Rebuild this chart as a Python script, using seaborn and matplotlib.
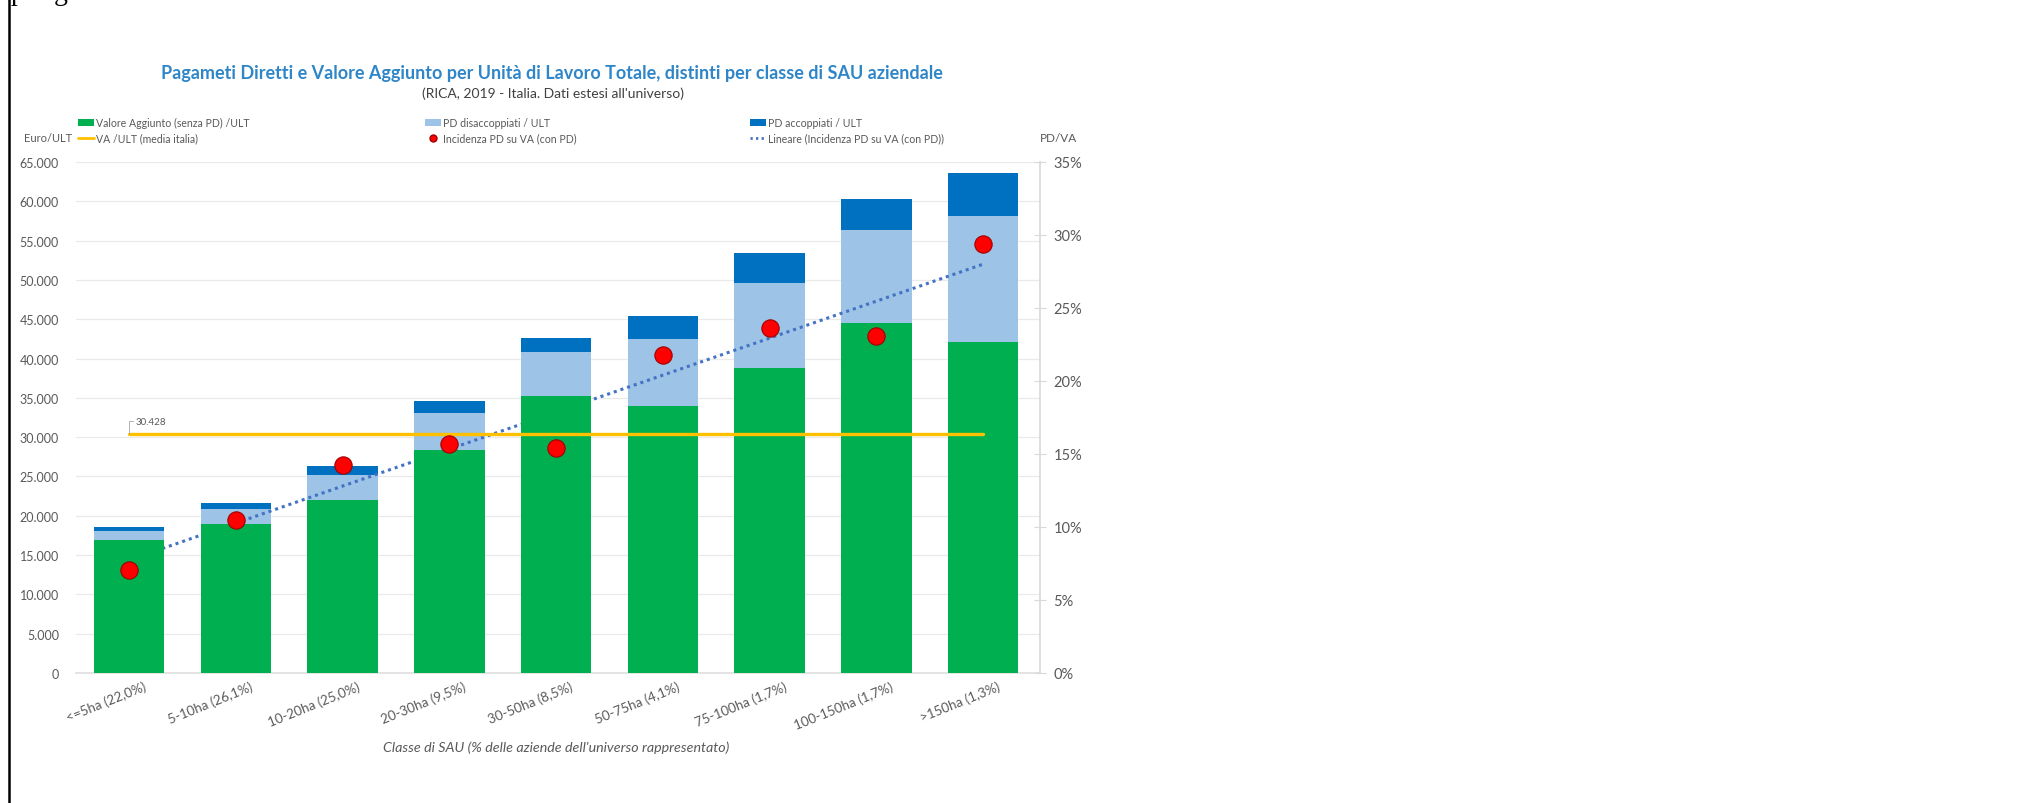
import numpy as np
import pandas as pd
import matplotlib
matplotlib.use("Agg")
import matplotlib.pyplot as plt
import matplotlib.transforms as mtransforms
import seaborn as sns
from matplotlib.lines import Line2D
from matplotlib.patches import Patch
from matplotlib.ticker import FuncFormatter

# ---------------- data ----------------
categories = ["<=5ha (22,0%)", "5-10ha (26,1%)", "10-20ha (25,0%)", "20-30ha (9,5%)",
              "30-50ha (8,5%)", "50-75ha (4,1%)", "75-100ha (1,7%)", "100-150ha (1,7%)",
              ">150ha (1,3%)"]
va_senza_pd = [16900, 18900, 22000, 28400, 35200, 33900, 38800, 44500, 42100]
pd_disaccoppiati = [1200, 2000, 3200, 4650, 5600, 8600, 10800, 11850, 16000]
pd_accoppiati = [450, 700, 1150, 1500, 1820, 2950, 3850, 3950, 5500]
incidenza_pd = [0.0705, 0.105, 0.1425, 0.157, 0.154, 0.218, 0.236, 0.231, 0.294]
va_media_italia = 30428

left_ticks = list(range(0, 65001, 5000))
right_ticks = [0.0, 0.05, 0.10, 0.15, 0.20, 0.25, 0.30, 0.35]

title = "Pagameti Diretti e Valore Aggiunto per Unità di Lavoro Totale, distinti per classe di SAU aziendale"
subtitle = "(RICA, 2019 - Italia. Dati estesi all'universo)"
xlabel = "Classe di SAU (% delle aziende dell'universo rappresentato)"
legend_labels = ["Valore Aggiunto (senza PD) /ULT", "PD disaccoppiati / ULT", "PD accoppiati / ULT",
                 "VA /ULT (media italia)", "Incidenza PD su VA (con PD)",
                 "Lineare (Incidenza PD su VA (con PD))"]

# ---------------- style ----------------
sns.set_theme(style="white")
plt.rcParams["font.family"] = ["Lato", "DejaVu Sans"]

GREEN = "#00B050"
LIGHT = "#9DC3E6"
DARK = "#0070C0"
YELLOW = "#FFC000"
RED = "#FF0000"
TREND = "#4472C4"
TXT = "#595959"

df = pd.DataFrame({
    "classe": categories,
    "va": va_senza_pd,
    "lvl2": np.array(va_senza_pd) + np.array(pd_disaccoppiati),
    "lvl3": np.array(va_senza_pd) + np.array(pd_disaccoppiati) + np.array(pd_accoppiati),
})
xpos = np.arange(len(categories))

fig = plt.figure(figsize=(20.18, 8.04), dpi=100)
fig.patch.set_facecolor("white")
ax = fig.add_axes([0.0375, 0.1617, 0.4777, 0.6356])
ax2 = ax.twinx()
ax2.set_ylim(0, 0.35)

bw = 0.66
sns.barplot(data=df, x="classe", y="lvl3", order=categories, color=DARK, width=bw,
            saturation=1, errorbar=None, ax=ax, zorder=2, linewidth=0)
sns.barplot(data=df, x="classe", y="lvl2", order=categories, color=LIGHT, width=bw,
            saturation=1, errorbar=None, ax=ax, zorder=2, linewidth=0)

# linear trend of incidence (drawn in ax with ax2 scale, behind green bars)
coef = np.polyfit(xpos, incidenza_pd, 1)
trend = np.polyval(coef, xpos)
ax.plot(xpos, trend, transform=ax2.transData, color=TREND, lw=2.2,
        linestyle=(0, (1.0, 1.3)), zorder=2.5)

sns.barplot(data=df, x="classe", y="va", order=categories, color=GREEN, width=bw,
            saturation=1, errorbar=None, ax=ax, zorder=3, linewidth=0)

ax.plot([xpos[0], xpos[-1]], [va_media_italia, va_media_italia], color=YELLOW, lw=2.4, zorder=4)
ax.annotate(f"{va_media_italia:,}".replace(",", "."), xy=(xpos[0], va_media_italia),
            xytext=(5, 9), textcoords="offset points", ha="left", va="center",
            fontsize=7, color=TXT, zorder=5,
            arrowprops=dict(arrowstyle="-", color="#A6A6A6", lw=0.6, shrinkA=0, shrinkB=0,
                            connectionstyle="angle,angleA=180,angleB=90,rad=0"))

sns.scatterplot(x=xpos, y=incidenza_pd, ax=ax2, s=155, color=RED, edgecolor="#A00000",
                linewidth=0.8, zorder=6, legend=False)

# ---------------- axes ----------------
ax.set_xlim(-0.5, 8.53)
ax.set_ylim(0, 65000)
ax.set_yticks(left_ticks)
ax.yaxis.set_major_formatter(FuncFormatter(lambda v, p: f"{int(v):,}".replace(",", ".")))
ax.tick_params(axis="y", length=0, pad=12, labelsize=9, labelcolor=TXT)
ax.grid(axis="y", color="#EAEAEA", lw=0.9)
ax.grid(axis="x", visible=False)
ax.set_axisbelow(True)
ax.set_xlabel("")
ax.set_ylabel("")
ax.set_xticks(xpos)
ax.set_xticklabels(categories, rotation=22, ha="right", rotation_mode="anchor",
                   fontsize=9.6, color=TXT)
ax.tick_params(axis="x", length=0, pad=5)
shift = mtransforms.ScaledTranslation(14 / 100, 0, fig.dpi_scale_trans)
for lab in ax.get_xticklabels():
    lab.set_transform(lab.get_transform() + shift)
for s in ["top", "left", "right"]:
    ax.spines[s].set_visible(False)
ax.spines["bottom"].set_color("#E0E0E0")

ax2.set_yticks(right_ticks)
ax2.yaxis.set_major_formatter(FuncFormatter(lambda v, p: f"{v*100:.0f}%"))
ax2.tick_params(axis="y", direction="inout", length=8, width=0.8, color="#D9D9D9",
                pad=6, labelsize=10.5, labelcolor=TXT)
ax2.set_ylabel("")
for s in ["top", "left", "bottom"]:
    ax2.spines[s].set_visible(False)
ax2.spines["right"].set_color("#D9D9D9")
ax2.grid(False)

# ---------------- texts ----------------
fig.text(0.2736, 0.909, title, ha="center", va="center", fontsize=13.0,
         fontweight="bold", color="#2E86C8")
fig.text(0.274, 0.883, subtitle, ha="center", va="center", fontsize=10, color="#404040")
fig.text(24 / 2018, 1 - 139 / 804, "Euro/ULT", ha="left", va="center", fontsize=8, color=TXT)
fig.text(1040 / 2018, 1 - 139 / 804, "PD/VA", ha="left", va="center", fontsize=8.5, color=TXT)
fig.text(0.2757, 1 - 748 / 804, xlabel, ha="center", va="center", fontsize=10.3,
         style="italic", color=TXT)

# ---------------- legends ----------------
handles = [
    Patch(facecolor=GREEN, edgecolor="none"),
    Patch(facecolor=LIGHT, edgecolor="none"),
    Patch(facecolor=DARK, edgecolor="none"),
    Line2D([], [], color=YELLOW, lw=2),
    Line2D([], [], marker="o", ls="none", color=RED, markeredgecolor="#A00000", markersize=5),
    Line2D([], [], color=TREND, lw=2, linestyle=(0, (0.8, 1.2))),
]
col_x = [78 / 2018, 425 / 2018, 750 / 2018]
ycen = 1 - 131.5 / 804
for c in range(3):
    fig.legend([handles[c], handles[c + 3]], [legend_labels[c], legend_labels[c + 3]],
               loc="center left", bbox_to_anchor=(col_x[c], ycen), frameon=False,
               fontsize=7.6, labelcolor=TXT, handlelength=1.5, handleheight=0.6,
               handletextpad=0.2, labelspacing=0.4, borderpad=0, borderaxespad=0)

# ---------------- page frame remnants ----------------
fig.add_artist(Line2D([9 / 2018, 9 / 2018], [0, 1], transform=fig.transFigure,
                      color="black", lw=1.8))
fig.text(11 / 2018, 1.0, "p", family="Liberation Serif", fontsize=20, va="baseline",
         ha="left", color="black")
fig.text(54 / 2018, 1.0, "g", family="Liberation Serif", fontsize=20, va="baseline",
         ha="left", color="black")

fig.savefig("out.png", dpi=100, facecolor="white")
